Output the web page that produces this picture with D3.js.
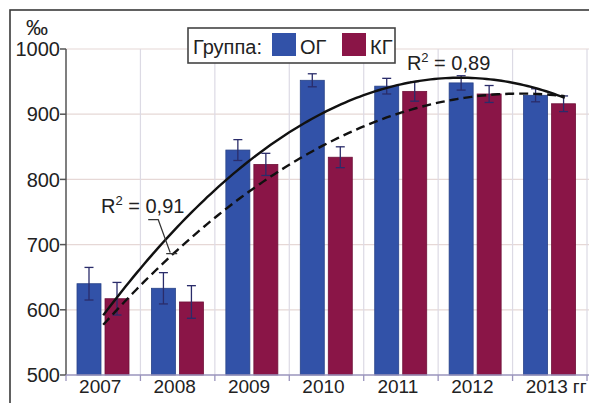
<!DOCTYPE html>
<html>
<head>
<meta charset="utf-8">
<script src="https://cdn.jsdelivr.net/npm/d3@7"></script>
<style>
  html, body { margin: 0; padding: 0; background: #fff; }
  svg { display: block; font-family: "Liberation Sans", Arial, sans-serif; }
</style>
</head>
<body>
<svg id="chart" width="589" height="403"></svg>
<script>
// Годы наблюдения
const years = ["2007", "2008", "2009", "2010", "2011", "2012", "2013"];
// Показатели, ‰
const ogValues = [640, 633, 845, 952, 943, 948, 929];
const kgValues = [617, 612, 823, 834, 935, 931, 916];
// Погрешности (±)
const ogErrors = [25, 24, 16, 10, 12, 11, 10];
const kgErrors = [25, 25, 17, 16, 15, 13, 12];
// Шкала Y
const yTicks = [500, 600, 700, 800, 900, 1000];
const groups = ["ОГ", "КГ"];

const colors = { "ОГ": "#3252a8", "КГ": "#8a1547" };

const W = 589, H = 403;
const plot = { left: 66, right: 587, top: 49, bottom: 375 };

const svg = d3.select("#chart");

const x = d3.scaleBand().domain(years).range([plot.left, plot.right]).padding(0);
const xSub = d3.scaleBand().domain(groups).range([11, 63]).paddingInner(0.143).paddingOuter(0);
const y = d3.scaleLinear().domain([500, 1000]).range([plot.bottom, plot.top]);
// index scale for trend lines: 0 -> centre of first year, 6 -> centre of last
const xi = d3.scaleLinear().domain([0, years.length - 1])
  .range([x(years[0]) + x.bandwidth() / 2, x(years[years.length - 1]) + x.bandwidth() / 2]);

// outer frame
svg.append("rect")
  .attr("x", 10).attr("y", 10).attr("width", W).attr("height", H)
  .attr("fill", "none").attr("stroke", "#3a3a3a").attr("stroke-width", 1.6);

// horizontal grid
svg.append("g").selectAll("line").data(yTicks.slice(1)).join("line")
  .attr("x1", plot.left).attr("x2", W)
  .attr("y1", d => y(d)).attr("y2", d => y(d))
  .attr("stroke", "#e6d8d6").attr("stroke-width", 1.2);

// vertical grid at year boundaries
const bounds = years.slice(1).map(d => x(d)).concat([plot.right]);
svg.append("g").selectAll("line").data(bounds).join("line")
  .attr("x1", d => d).attr("x2", d => d)
  .attr("y1", plot.top).attr("y2", plot.bottom)
  .attr("stroke", "#dcdae4").attr("stroke-width", 1.2);

// bars
const rows = years.map((yr, i) => ({
  year: yr,
  items: [
    { g: "ОГ", v: ogValues[i], e: ogErrors[i] },
    { g: "КГ", v: kgValues[i], e: kgErrors[i] }
  ]
}));

const yearG = svg.append("g").selectAll("g").data(rows).join("g")
  .attr("transform", d => `translate(${x(d.year)},0)`);

yearG.selectAll("rect").data(d => d.items).join("rect")
  .attr("x", d => xSub(d.g))
  .attr("width", xSub.bandwidth())
  .attr("y", d => y(d.v))
  .attr("height", d => y(500) - y(d.v))
  .attr("fill", d => colors[d.g])
  .attr("stroke", d => d3.color(colors[d.g]).darker(0.6))
  .attr("stroke-width", 0.8);

// error bars
const err = yearG.selectAll("g.err").data(d => d.items).join("g").attr("class", "err")
  .attr("stroke", "#2a2c6a").attr("stroke-width", 1.3);
err.append("line")
  .attr("x1", d => xSub(d.g) + xSub.bandwidth() / 2)
  .attr("x2", d => xSub(d.g) + xSub.bandwidth() / 2)
  .attr("y1", d => y(d.v + d.e)).attr("y2", d => y(d.v - d.e));
err.append("line")
  .attr("x1", d => xSub(d.g) + xSub.bandwidth() / 2 - 4.5)
  .attr("x2", d => xSub(d.g) + xSub.bandwidth() / 2 + 4.5)
  .attr("y1", d => y(d.v + d.e)).attr("y2", d => y(d.v + d.e));
err.append("line")
  .attr("x1", d => xSub(d.g) + xSub.bandwidth() / 2 - 4.5)
  .attr("x2", d => xSub(d.g) + xSub.bandwidth() / 2 + 4.5)
  .attr("y1", d => y(d.v - d.e)).attr("y2", d => y(d.v - d.e));

// polynomial (2nd order) least-squares trend and its R²
function quadFit(vals) {
  const xs = vals.map((_, i) => i);
  const mx = d3.mean(xs);
  const t = xs.map(v => v - mx);
  const mt2 = d3.mean(t, v => v * v);
  const p2 = t.map(v => v * v - mt2);
  const my = d3.mean(vals);
  const b = d3.sum(t, (v, i) => v * vals[i]) / d3.sum(t, v => v * v);
  const c = d3.sum(p2, (v, i) => v * vals[i]) / d3.sum(p2, v => v * v);
  const f = i => my + b * (i - mx) + c * ((i - mx) * (i - mx) - mt2);
  const ssTot = d3.sum(vals, v => (v - my) * (v - my));
  const ssRes = d3.sum(vals, (v, i) => (v - f(i)) * (v - f(i)));
  return { f, r2: 1 - ssRes / ssTot };
}

const ogFit = quadFit(ogValues);
const kgFit = quadFit(kgValues);
const forward = 0.23;

function trendPath(fit) {
  const pts = d3.range(0, years.length - 1 + forward + 1e-9, 0.05).map(i => [xi(i), y(fit.f(i))]);
  return d3.line()(pts);
}

svg.append("path").attr("d", trendPath(kgFit))
  .attr("fill", "none").attr("stroke", "#111").attr("stroke-width", 2.4)
  .attr("stroke-dasharray", "9,5");
svg.append("path").attr("d", trendPath(ogFit))
  .attr("fill", "none").attr("stroke", "#111").attr("stroke-width", 2.4);

// y axis
const yAxis = svg.append("g");
yAxis.append("line")
  .attr("x1", plot.left).attr("x2", plot.left)
  .attr("y1", plot.top).attr("y2", plot.bottom)
  .attr("stroke", "#555").attr("stroke-width", 1.5);
const yt = yAxis.selectAll("g").data(yTicks).join("g")
  .attr("transform", d => `translate(0,${y(d)})`);
yt.append("line").attr("x1", plot.left - 6).attr("x2", plot.left)
  .attr("stroke", "#555").attr("stroke-width", 1.5);
yt.append("text").attr("x", plot.left - 6).attr("dy", "0.36em")
  .attr("text-anchor", "end").attr("font-size", 20).attr("fill", "#222")
  .text(d => d);

svg.append("text").attr("x", 26).attr("y", 35)
  .attr("font-size", 22).attr("fill", "#222").text("‰");

// x axis
const xAxis = svg.append("g");
xAxis.append("line")
  .attr("x1", plot.left).attr("x2", W)
  .attr("y1", plot.bottom).attr("y2", plot.bottom)
  .attr("stroke", "#9a94bc").attr("stroke-width", 1.5);
xAxis.selectAll("line.tk").data([plot.left].concat(bounds)).join("line").attr("class", "tk")
  .attr("x1", d => d).attr("x2", d => d)
  .attr("y1", plot.bottom).attr("y2", plot.bottom + 6)
  .attr("stroke", "#9a94bc").attr("stroke-width", 1.3);
xAxis.selectAll("text").data(years).join("text")
  .attr("x", d => x(d) + x.bandwidth() / 2 - 3)
  .attr("y", plot.bottom + 18)
  .attr("text-anchor", "middle").attr("font-size", 19).attr("fill", "#222")
  .text(d => d);
svg.append("text")
  .attr("x", x(years[years.length - 1]) + x.bandwidth() / 2 + 23)
  .attr("y", plot.bottom + 18)
  .attr("font-size", 19).attr("fill", "#222").text("гг");

// R² labels
const fmt = v => d3.format(".2f")(v).replace(".", ",");
function r2Label(px, py, fit) {
  const t = svg.append("text").attr("x", px).attr("y", py)
    .attr("font-size", 20).attr("fill", "#222");
  t.append("tspan").text("R");
  t.append("tspan").attr("font-size", 13).attr("dy", -8).text("2");
  t.append("tspan").attr("dy", 8).text(" = " + fmt(fit.r2));
}
// label of the solid trend, above its peak
r2Label(xi(4.08), y(968), ogFit);
// label of the dashed trend, with a leader to the curve
r2Label(xi(-0.03), y(748), kgFit);
const ax = xi(0.9), ay = y(kgFit.f(0.9)) - 4;
svg.append("path")
  .attr("d", `M${ax - 22},${ay - 33} H${ax - 12} L${ax},${ay} M${ax - 4},${ay + 1} H${ax + 7}`)
  .attr("fill", "none").attr("stroke", "#333").attr("stroke-width", 1.3);

// legend
const lg = svg.append("g").attr("transform", "translate(188,28)");
lg.append("rect").attr("width", 207).attr("height", 35)
  .attr("fill", "#fff").attr("stroke", "#444").attr("stroke-width", 1.6);
lg.append("text").attr("x", 5).attr("y", 26).attr("font-size", 20).attr("fill", "#222").text("Группа:");
const li = lg.selectAll("g.it").data(groups).join("g").attr("class", "it")
  .attr("transform", (d, i) => `translate(${84 + i * 70},5)`);
li.append("rect").attr("width", 24).attr("height", 23).attr("fill", d => colors[d]);
li.append("text").attr("x", 28).attr("y", 21).attr("font-size", 20).attr("fill", "#222").text(d => d);
</script>
</body>
</html>
